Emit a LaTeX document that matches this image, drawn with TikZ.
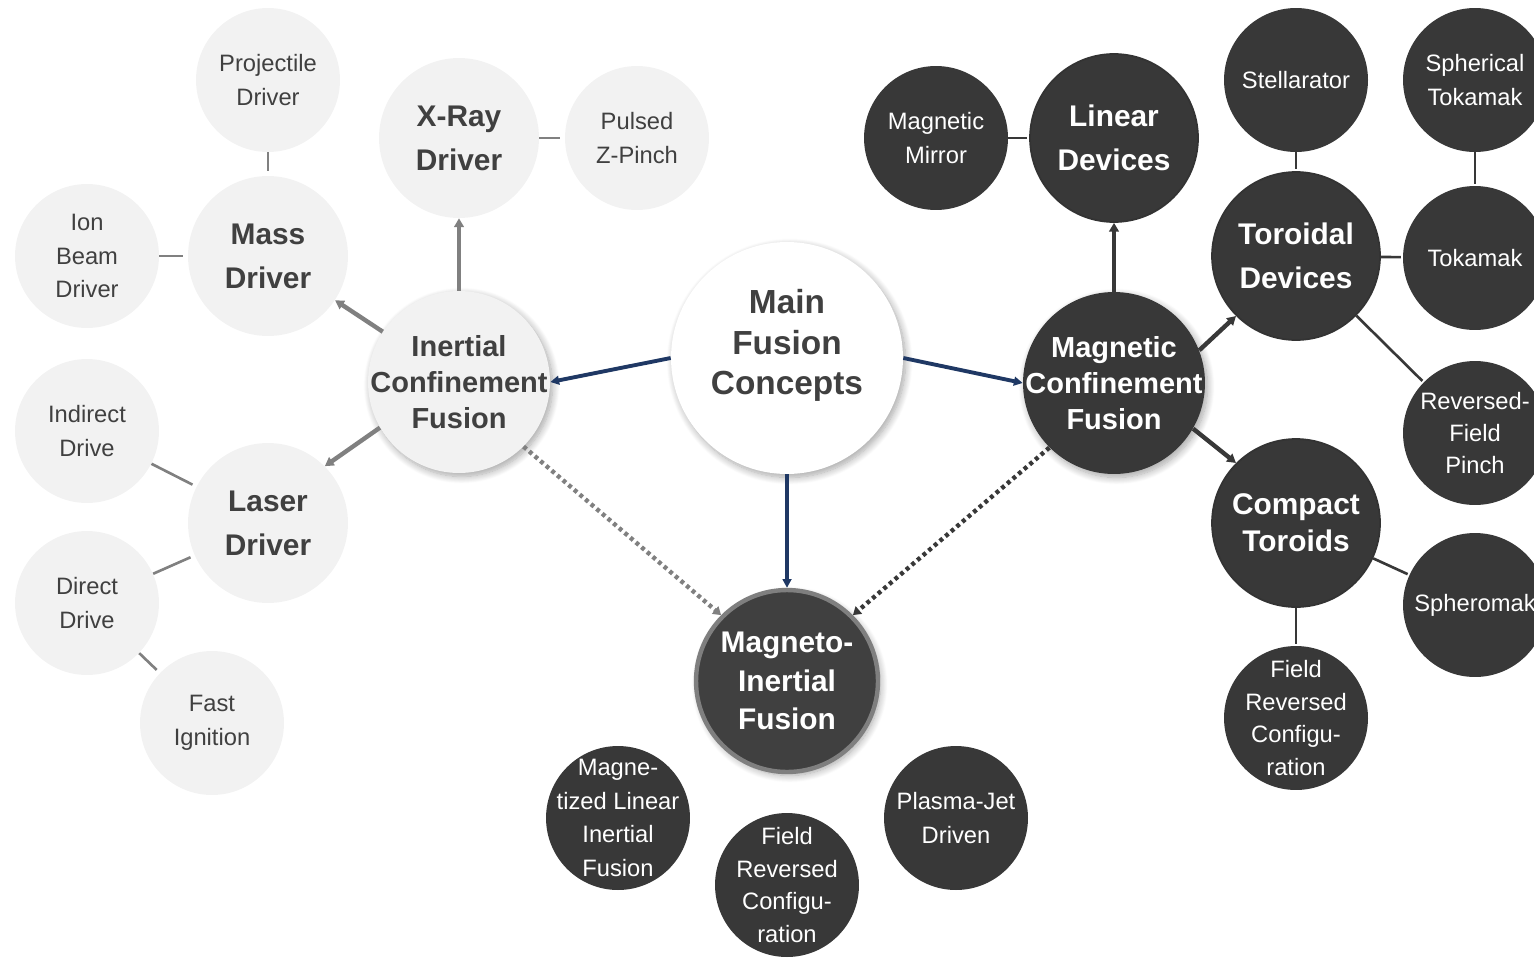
\documentclass[tikz,border=0pt]{standalone}
\usepackage{fontspec}
\setmainfont{Liberation Sans}
\usetikzlibrary{arrows.meta,shadows.blur}

\definecolor{lightfill}{HTML}{F2F2F2}
\definecolor{darkfill}{HTML}{383838}
\definecolor{hybridfill}{HTML}{404040}
\definecolor{textgray}{HTML}{404040}
\definecolor{linegray}{HTML}{808080}
\definecolor{navyline}{HTML}{1F3864}
\definecolor{rimgray}{HTML}{7F7F7F}

\begin{document}
\begin{tikzpicture}[x=0.02cm, y=-0.02cm,
    soft shadow/.style={blur shadow={shadow blur steps=10, shadow blur radius=4pt,
        shadow xshift=1.5pt, shadow yshift=-2pt, shadow opacity=35}},
    bubble/.style={circle, inner sep=-20pt, align=center},
    hub/.style={bubble, fill=white, minimum size=4.64cm, text=textgray,
        font=\fontsize{19}{23.2}\selectfont\bfseries, soft shadow},
    family/.style={bubble, minimum size=3.64cm,
        font=\fontsize{16.5}{20.5}\selectfont\bfseries, soft shadow},
    light branch/.style={bubble, fill=lightfill, minimum size=3.2cm, text=textgray,
        font=\fontsize{17}{25}\selectfont\bfseries},
    light leaf/.style={bubble, fill=lightfill, minimum size=2.88cm, text=textgray,
        font=\fontsize{13.5}{19.3}\selectfont},
    dark branch/.style={bubble, fill=darkfill, draw=black!80, line width=1pt,
        minimum size=3.36cm, text=white, font=\fontsize{17}{25}\selectfont\bfseries},
    dark leaf/.style={bubble, fill=darkfill, minimum size=2.88cm, text=white,
        font=\fontsize{13.5}{19.3}\selectfont},
    main arrow/.style={navyline, line width=2.2pt, -{Triangle[length=5pt,width=5pt]}},
    light arrow/.style={linegray, line width=2.5pt, -{Triangle[length=5pt,width=5.5pt]}},
    dark arrow/.style={darkfill, line width=2.5pt, -{Triangle[length=5pt,width=5.5pt]}},
    light link/.style={linegray, line width=1.5pt, shorten >=2.5pt},
    dark link/.style={darkfill, line width=1.5pt, shorten >=1pt},
    hybrid link/.style={line width=2.5pt, dash pattern=on 2.2pt off 2pt,
        -{Triangle[length=4.5pt,width=5.5pt]}}
]
\useasboundingbox (0,0) rectangle (1534,957);
\clip (0,0) rectangle (1534,957);

% centre and the three families
\node[hub] (main) at (787,358) {Main\\Fusion\\Concepts\\[-5pt]\mbox{}};
\node[family, fill=lightfill, text=textgray] (icf) at (459,382) {Inertial\\Confinement\\Fusion};
\node[family, fill=darkfill, text=white] (mcf) at (1114,383) {Magnetic\\Confinement\\Fusion};
\node[family, fill=hybridfill, draw=rimgray, line width=2.5pt, text=white,
    font=\fontsize{17}{22}\selectfont\bfseries] (mif) at (787,681) {Magneto-\\Inertial\\Fusion};

% inertial side
\node[light branch] (xray) at (459,138) {X-Ray\\Driver};
\node[light branch] (mass) at (268,256) {Mass\\Driver};
\node[light branch] (laser) at (268,523) {Laser\\Driver};
\node[light leaf] (zpinch) at (637,138) {Pulsed\\Z-Pinch};
\node[light leaf] (proj) at (268,80) {Projectile\\Driver};
\node[light leaf] (ion) at (87,256) {Ion\\Beam\\Driver};
\node[light leaf] (indirect) at (87,431) {Indirect\\Drive};
\node[light leaf] (direct) at (87,603) {Direct\\Drive};
\node[light leaf] (fast) at (212,723) {Fast\\Ignition};

% magnetic side
\node[dark branch] (linear) at (1114,138) {Linear\\Devices};
\node[dark branch] (toroidal) at (1296,256) {Toroidal\\Devices};
\node[dark branch, font=\fontsize{17}{21}\selectfont\bfseries] (compact) at (1296,523) {Compact\\Toroids};
\node[dark leaf] (mirror) at (936,138) {Magnetic\\Mirror};
\node[dark leaf] (stell) at (1296,80) {Stellarator};
\node[dark leaf] (sphtok) at (1475,80) {Spherical\\Tokamak};
\node[dark leaf] (tokamak) at (1475,258) {Tokamak};
\node[dark leaf, font=\fontsize{13.5}{18}\selectfont] (rfp) at (1475,433) {Reversed-\\Field\\Pinch};
\node[dark leaf] (spheromak) at (1475,605) {Spheromak};
\node[dark leaf, font=\fontsize{13.5}{18.5}\selectfont] (frc) at (1296,718) {Field\\Reversed\\Configu-\\ration};

% magneto-inertial side
\node[dark leaf, font=\fontsize{13.5}{19}\selectfont] (maglif) at (618,818) {Magne-\\tized Linear\\Inertial\\Fusion};
\node[dark leaf, font=\fontsize{13.5}{18.5}\selectfont] (frcmif) at (787,885) {Field\\Reversed\\Configu-\\ration};
\node[dark leaf] (plasmajet) at (956,818) {Plasma-Jet\\Driven};

% connectors
\draw[main arrow] (main.west) -- (icf.east);
\draw[main arrow] (main.east) -- (mcf.west);
\draw[main arrow] (main.south) -- (mif.north);
\draw[hybrid link, linegray] (icf.315) -- (mif.135);
\draw[hybrid link, darkfill] (mcf.225) -- (mif.45);

\draw[light arrow] (icf.north) -- (xray.south);
\draw[light arrow] (icf) -- (mass);
\draw[light arrow] (icf.210) -- (laser.45);
\draw[light link] (xray) -- (zpinch);
\draw[light link] (proj) -- (mass);
\draw[light link] (ion) -- (mass);
\draw[light link] (indirect) -- (laser);
\draw[light link] (direct) -- (laser);
\draw[light link] (direct) -- (fast);

\draw[dark arrow] (mcf.north) -- (linear.south);
\draw[dark arrow] (mcf.21) -- (toroidal.225);
\draw[dark arrow] (mcf.330) -- (compact.135);
\draw[dark link] (mirror) -- (linear);
\draw[dark link] (stell) -- (toroidal);
\draw[dark link] (sphtok) -- (tokamak);
\draw[dark link] (toroidal) -- (tokamak);
\draw[dark link] (toroidal) -- (rfp);
\draw[dark link] (compact) -- (spheromak);
\draw[dark link] (compact) -- (frc);
\end{tikzpicture}
\end{document}
